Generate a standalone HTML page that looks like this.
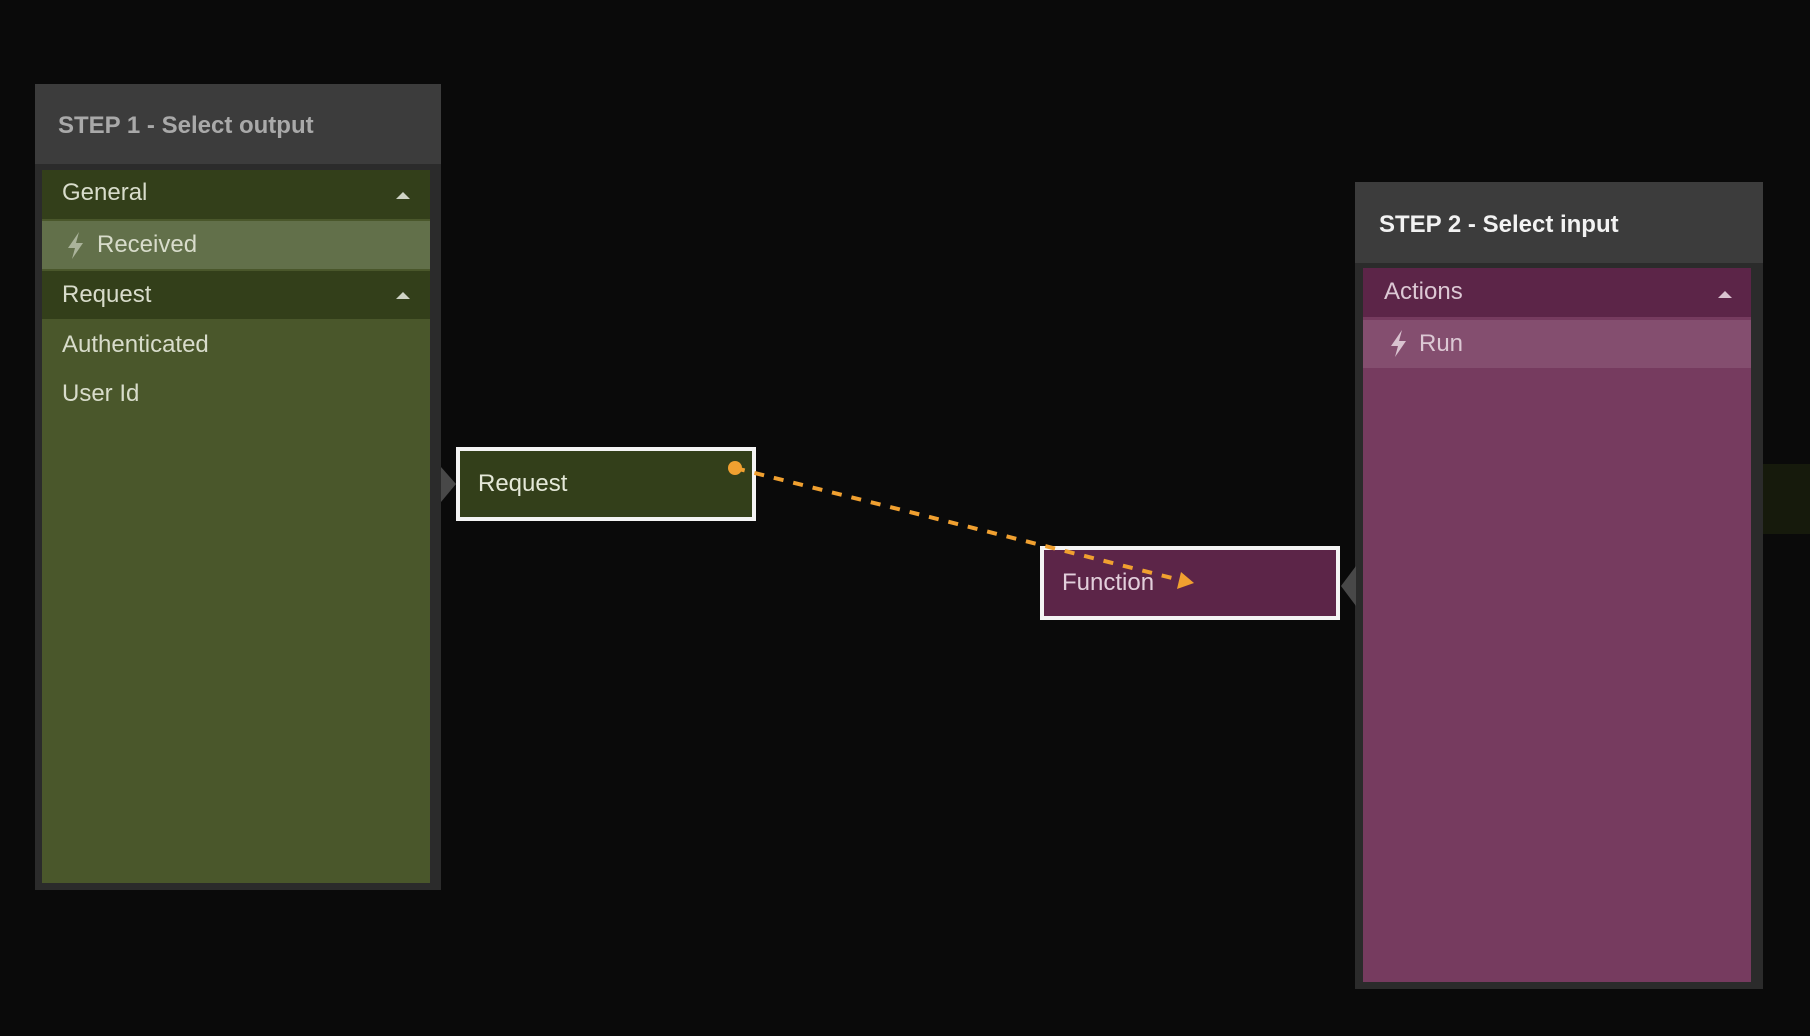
<!DOCTYPE html>
<html><head><style>
body{margin:0;width:1810px;height:1036px;background:#0a0a0a;position:relative;overflow:hidden;font-family:"Liberation Sans",sans-serif}
div{position:absolute;box-sizing:border-box}
.t{font-size:24px;white-space:nowrap;line-height:1}
</style></head><body>
<!-- panel 1 -->
<div style="left:35px;top:84px;width:406px;height:806px;background:#2b2b2b"></div>
<div style="left:35px;top:84px;width:406px;height:80px;background:#3c3c3c"></div>
<div class="t" style="left:58px;top:114px;color:#a9a9a9;font-weight:bold">STEP 1 - Select output</div>
<div style="left:42px;top:170px;width:388px;height:713px;background:#4a572b"></div>
<div style="left:42px;top:170px;width:388px;height:49px;background:#333f1a"></div>
<div style="left:42px;top:221px;width:388px;height:48px;background:#62704a"></div>
<div style="left:42px;top:271px;width:388px;height:48px;background:#333f1a"></div>
<div class="t" style="left:62px;top:181px;color:#d8dccb">General</div>
<div class="t" style="left:97px;top:233px;color:#d8dccb">Received</div>
<div class="t" style="left:62px;top:283px;color:#d8dccb">Request</div>
<div class="t" style="left:62px;top:333px;color:#d8dccb">Authenticated</div>
<div class="t" style="left:62px;top:382px;color:#d8dccb">User Id</div>
<!-- panel 2 -->
<div style="left:1355px;top:182px;width:408px;height:807px;background:#2b2b2b"></div>
<div style="left:1355px;top:182px;width:408px;height:81px;background:#3c3c3c"></div>
<div class="t" style="left:1379px;top:213px;color:#f2f2f2;font-weight:bold">STEP 2 - Select input</div>
<div style="left:1363px;top:268px;width:388px;height:714px;background:#763b5f"></div>
<div style="left:1363px;top:268px;width:388px;height:49px;background:#5c2548"></div>
<div style="left:1363px;top:320px;width:388px;height:48px;background:#844e6f"></div>
<div class="t" style="left:1384px;top:280px;color:#dcc8d4">Actions</div>
<div class="t" style="left:1419px;top:332px;color:#dcc8d4">Run</div>
<div style="left:1763px;top:464px;width:47px;height:70px;background:#161a0c"></div>
<svg style="position:absolute;left:0;top:0" width="1810" height="1036">
<polygon points="396,199 410,199 403,192" fill="#cfd3c5"/>
<polygon points="396,299 410,299 403,292" fill="#cfd3c5"/>
<polygon points="1718,298 1732,298 1725,291" fill="#d9c3d0"/>
<polygon points="79,232 68,248 75,248 72,259 83,243 76,243" fill="#aab39a"/>
<polygon points="1402,330 1391,346 1398,346 1395,357 1406,341 1399,341" fill="#d9c3d0"/>
<polygon points="441,467 456,484 441,502" fill="#484848"/>
<polygon points="1356,566 1341,586 1356,606" fill="#484848"/>
</svg>
<!-- nodes -->
<div style="left:456px;top:447px;width:300px;height:74px;background:#333f1a;border:4px solid #f4f4f4"></div>
<div class="t" style="left:478px;top:472px;color:#e4e8d8">Request</div>
<div style="left:1040px;top:546px;width:300px;height:74px;background:#5c2548;border:4px solid #f4f4f4"></div>
<div class="t" style="left:1062px;top:571px;color:#e2cfdb">Function</div>
<svg style="position:absolute;left:0;top:0" width="1810" height="1036">
<line x1="735" y1="468" x2="1180" y2="580" stroke="#f0a030" stroke-width="4" stroke-dasharray="10 10"/>
<polygon points="1194,583 1177,589 1181,572" fill="#f0a030"/>
<circle cx="735" cy="468" r="7" fill="#f0a030"/>
</svg>
</body></html>
